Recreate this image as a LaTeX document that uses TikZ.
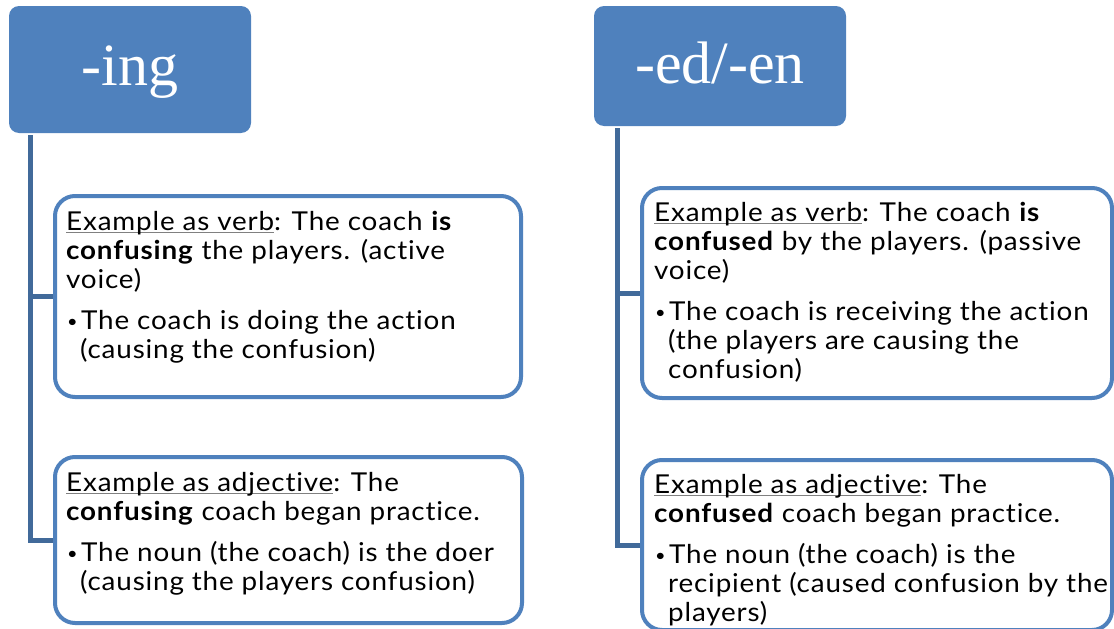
\documentclass[tikz,border=0pt]{standalone}
\usepackage{fontspec}
\setmainfont{Lato}[FakeStretch=1.07, LetterSpace=3.2, Ligatures=NoCommon]
\newfontfamily\hdrfont{Liberation Serif}
\usetikzlibrary{calc}
\definecolor{accblue}{RGB}{79,129,189}
\definecolor{linkblue}{RGB}{65,106,154}
\newcommand\ulgray[1]{\setbox0\hbox{#1}\rlap{\textcolor{gray}{\rule[-2.5pt]{\wd0}{1.1pt}}}\box0}
\newcommand\bul{\makebox[15pt][l]{\hspace*{1pt}{\fontsize{17}{17}\selectfont\raisebox{1.5pt}{•}}}}
\newcommand\ind{\hspace*{14pt}}
\tikzset{
  hdr/.style={fill=accblue, rounded corners=10pt, text=white, inner sep=0pt,
    font=\hdrfont\fontsize{60}{60}\selectfont},
  box/.style={draw=accblue, line width=4pt, rounded corners=20pt, fill=white, inner sep=0pt},
  txt/.style={anchor=north west, inner sep=0pt, align=left, text=black,
    font=\fontsize{26}{29}\selectfont},
  conn/.style={draw=linkblue, line width=5pt}
}
\begin{document}
\begin{tikzpicture}[x=1pt,y=-1pt]
\useasboundingbox (0,0) rectangle (1114,629);
\clip (0,0) rectangle (1114,629);
% headers
\node[hdr, minimum width=242, minimum height=127, text height=44, text depth=13] (hL) at (130,69.5) {-ing};
\node[hdr, minimum width=252, minimum height=120, text height=47, text depth=13] (hR) at (720,66) {-ed/-en};
% connector start points
\coordinate (sL) at ($(hL.south west)+(22,2)$);
\coordinate (sR) at ($(hR.south west)+(24,2)$);
% boxes
\node[box, minimum width=466, minimum height=201] (bL1) at (288,296.5) {};
\node[box, minimum width=467, minimum height=166] (bL2) at (288.5,540) {};
\node[box, minimum width=470, minimum height=210] (bR1) at (877,293) {};
\node[box, minimum width=470, minimum height=170] (bR2) at (877,545) {};
% connectors
\draw[conn] (sL) |- (bL1.west);
\draw[conn] (sL) |- (bL2.west);
\draw[conn] (sR) |- (bR1.west);
\draw[conn] (sR) |- (bR2.west);
% texts
\node[txt] (tL1) at (66,211) {\ulgray{Example as verb}: The coach \textbf{is}\\
\textbf{confusing} the players. (active\\
voice)\\[12pt]
\bul The coach is doing the action\\
\ind(causing the confusion)};
\node[txt] (tL2) at (66,472) {\ulgray{Example as adjective}: The\\
\textbf{confusing} coach began practice.\\[12pt]
\bul The noun (the coach) is the doer\\
\ind(causing the players confusion)};
\node[txt] (tR1) at (654,202) {\ulgray{Example as verb}: The coach \textbf{is}\\
\textbf{confused} by the players. (passive\\
voice)\\[12pt]
\bul The coach is receiving the action\\
\ind(the players are causing the\\
\ind confusion)};
\node[txt] (tR2) at (654,474) {\ulgray{Example as adjective}: The\\
\textbf{confused} coach began practice.\\[12pt]
\bul The noun (the coach) is the\\
\ind recipient (caused confusion by the\\
\ind players)};
\end{tikzpicture}
\end{document}
